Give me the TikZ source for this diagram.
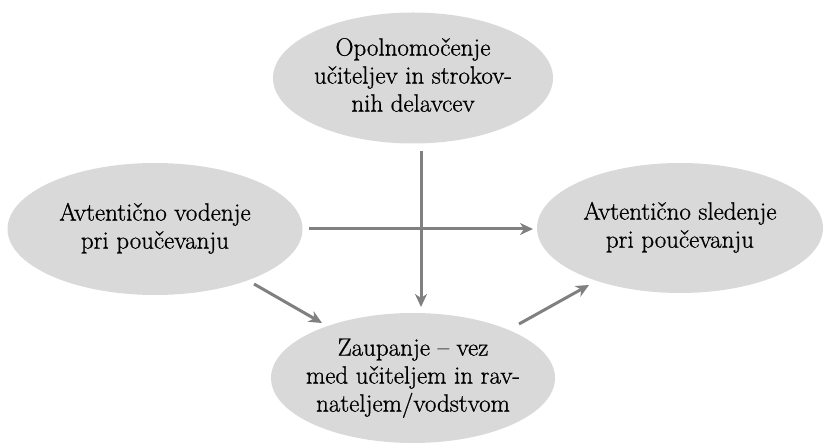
\documentclass[tikz,border=0pt]{standalone}
\usepackage{fontspec}
\newfontfamily\blobfont{Latin Modern Roman}[FakeBold=0.8]
\usetikzlibrary{arrows.meta,shapes.geometric}
\definecolor{ellfill}{RGB}{217,217,217}
\definecolor{arrgray}{RGB}{128,128,128}
\newcommand{\blobtext}[1]{\makebox[0pt]{\begin{tabular}{@{}c@{}}#1\end{tabular}}}
\begin{document}
\begin{tikzpicture}[x=1pt,y=-1pt,
  blob/.style={ellipse,fill=ellfill,draw=none,inner sep=0pt,
    font=\blobfont\fontsize{25}{28}\selectfont},
  conn/.style={draw=arrgray,line width=3pt,-{Stealth[length=13pt,width=12pt,inset=4pt]}}]
\useasboundingbox (0,0) rectangle (824,443);
\node[blob,minimum width=280,minimum height=131] (top) at (413,78) {\blobtext{Opolnomočenje\\učiteljev in strokov-\\nih delavcev}};
\node[blob,minimum width=295,minimum height=132] (left) at (155,229) {\blobtext{Avtentično vodenje\\pri poučevanju}};
\node[blob,minimum width=286,minimum height=130] (right) at (680,228) {\blobtext{Avtentično sledenje\\pri poučevanju}};
\node[blob,minimum width=284,minimum height=130] (bot) at (413,378) {\blobtext{Zaupanje – vez\\med učiteljem in rav-\\nateljem/vodstvom}};
\coordinate (v1) at (421,151);
\coordinate (v2) at (421,307);
\coordinate (h1) at (309,229);
\coordinate (h2) at (533,229);
\coordinate (l1) at (254,284);
\coordinate (l2) at (322,323);
\coordinate (r1) at (519,324);
\coordinate (r2) at (589,285);
\draw[conn] (v1) -- (v2);
\draw[conn] (h1) -- (h2);
\draw[conn] (l1) -- (l2);
\draw[conn] (r1) -- (r2);
\end{tikzpicture}
\end{document}
